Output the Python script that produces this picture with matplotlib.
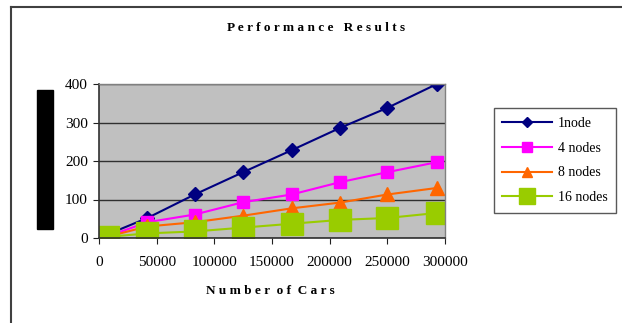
import matplotlib
matplotlib.use("Agg")
import matplotlib.pyplot as plt
from matplotlib.patches import Rectangle

# data
cars = [8000, 42000, 83000, 125000, 167000, 209000, 250000, 293000]
node1 = [10, 52, 113, 171, 228, 286, 338, 400]
nodes4 = [5, 41, 61, 93, 113, 145, 171, 197]
nodes8 = [4, 30, 41, 58, 77, 92, 113, 130]
nodes16 = [3, 12, 17, 27, 37, 47, 52, 65]
labels = ["1node", "4 nodes", "8 nodes", "16 nodes"]
xticks = [0, 50000, 100000, 150000, 200000, 250000, 300000]
yticks = [0, 100, 200, 300, 400]

plt.rcParams['font.family'] = ['Liberation Serif', 'DejaVu Serif']
W, H = 622, 323

fig = plt.figure(figsize=(W / 100, H / 100), dpi=100)
ax = fig.add_axes([99 / W, 1 - 238 / H, (445 - 99) / W, (238 - 84) / H])
ax.set_facecolor("#c0c0c0")

ax.plot(cars, node1, color="#000080", marker="D", ms=7, lw=1.5, label=labels[0])
ax.plot(cars, nodes4, color="#ff00ff", marker="s", ms=9, lw=1.5, label=labels[1])
ax.plot(cars, nodes8, color="#ff6600", marker="^", ms=10, lw=1.5, label=labels[2])
ax.plot(cars, nodes16, color="#99cc00", marker="s", ms=16, lw=1.5, label=labels[3])

ax.set_xlim(0, 300000)
ax.set_ylim(0, 400)
ax.set_xticks(xticks)
ax.set_yticks(yticks)
ax.set_xticklabels([str(v) for v in xticks])
ax.tick_params(axis="x", direction="out", length=4, pad=9, labelsize=11, color="#202020")
ax.tick_params(axis="y", direction="out", length=4, pad=4, labelsize=11, color="#202020")
ax.yaxis.grid(True, color="#303030", lw=1)
ax.set_axisbelow(True)
for side in ["left", "bottom"]:
    ax.spines[side].set_color("#303030")
    ax.spines[side].set_linewidth(1.2)
for side in ["top", "right"]:
    ax.spines[side].set_color("#808080")
    ax.spines[side].set_linewidth(1)
for lbl in ax.get_xticklabels() + ax.get_yticklabels():
    lbl.set_clip_on(False)

fig.text(316 / W, 1 - 28 / H, "P e r f o r m a n c e   R e s u l t s",
         ha="center", va="center", fontsize=9.5, fontweight="bold")
fig.text(270 / W, 1 - 291 / H, "N u m b e r  o f  C a r s",
         ha="center", va="center", fontsize=9.5, fontweight="bold")

# black block where the y label was
fig.patches.append(Rectangle((37 / W, 1 - 229 / H), 16 / W, 139 / H,
                             transform=fig.transFigure, color="black"))

# outer border (left and top only)
fig.add_artist(plt.Line2D([11 / W, 11 / W], [0, 1 - 7 / H], transform=fig.transFigure,
                          color="#404040", lw=1.5))
fig.add_artist(plt.Line2D([11 / W, 1], [1 - 7 / H, 1 - 7 / H], transform=fig.transFigure,
                          color="#404040", lw=1.5))

leg = fig.legend(loc="center", bbox_to_anchor=(555 / W, 1 - 160.5 / H), fontsize=10,
                 frameon=True, fancybox=False, handlelength=3.6, handletextpad=0.4,
                 labelspacing=0.85, borderpad=0.6, markerscale=0.75)
leg.get_frame().set_edgecolor("#303030")
leg.get_frame().set_linewidth(1)

fig.savefig("out.png", dpi=100)
